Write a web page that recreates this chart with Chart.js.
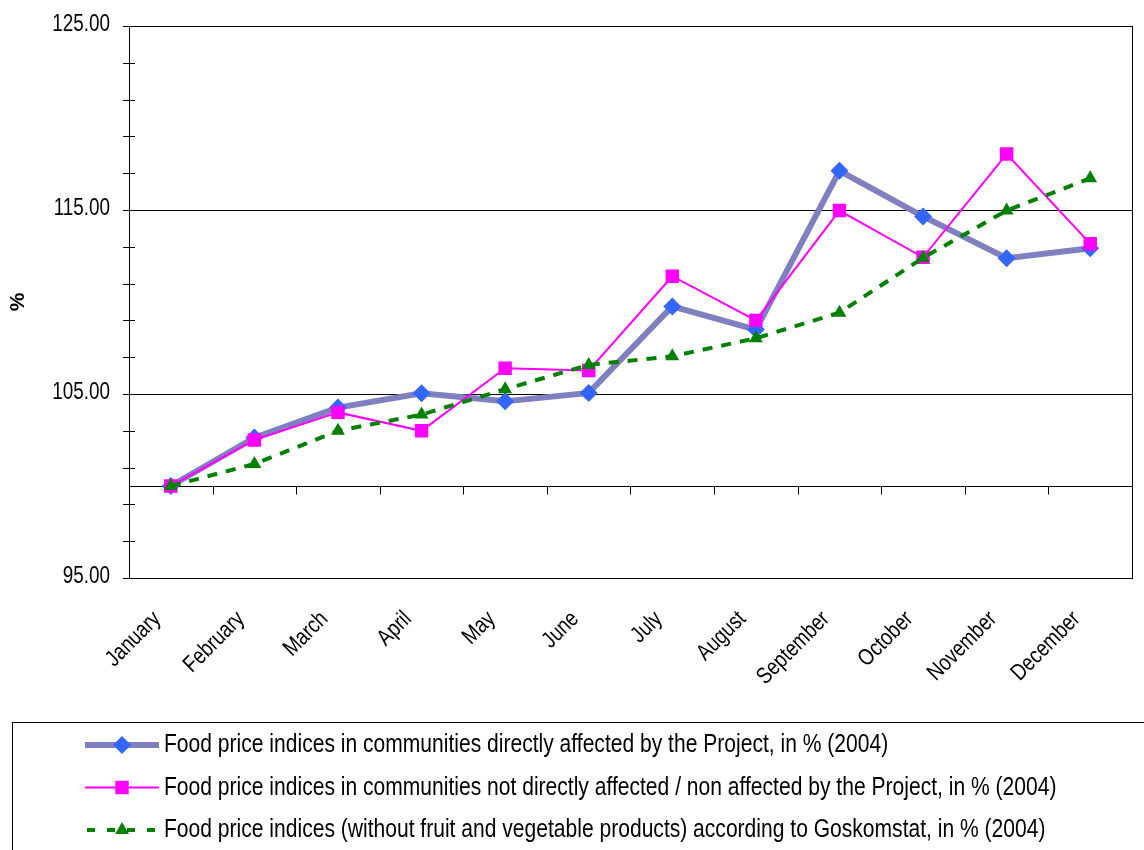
<!DOCTYPE html>
<html>
<head>
<meta charset="utf-8">
<title>Food price indices 2004</title>
<script src="https://cdn.jsdelivr.net/npm/chart.js"></script>
<style>
  body { margin: 0; background: #fff; }
  #wrap { width: 1144px; height: 850px; }
</style>
</head>
<body>
<div id="wrap"><canvas id="priceChart" width="1144" height="850"></canvas></div>
<script>
// months on the category axis
const months = ["January", "February", "March", "April", "May", "June",
  "July", "August", "September", "October", "November", "December"];

// series (%)
const directlyAffected = [100.0, 102.63, 104.26, 105.04, 104.6, 105.06, 109.76, 108.5, 117.13, 114.65, 112.38, 112.92];
const notAffected = [100.0, 102.5, 104.0, 103.0, 106.4, 106.28, 111.4, 109.0, 114.97, 112.43, 118.04, 113.17];
const goskomstat = [100.0, 101.2, 103.0, 103.88, 105.26, 106.58, 107.05, 108.03, 109.42, 112.4, 114.97, 116.72];

// y axis: labelled values, minor step
const yLabels = [95, 105, 115, 125];
const yMin = 95, yMax = 125, yStep = 2;
const crossAt = 100;

const seriesNames = [
  "Food price indices in communities directly affected by the Project, in % (2004)",
  "Food price indices in communities not directly affected / non affected by the Project, in % (2004)",
  "Food price indices (without fruit and vegetable products) according to Goskomstat, in % (2004)"
];

const FONT = "'Liberation Sans', Arial, sans-serif";
const NARROW = 0.82; // Arial -> Arial Narrow width

// draws a marker like the series use
function marker(ctx, style, x, y, r, fill) {
  ctx.save();
  ctx.fillStyle = fill;
  ctx.beginPath();
  if (style === "rectRot") {
    ctx.moveTo(x, y - r); ctx.lineTo(x + r, y); ctx.lineTo(x, y + r); ctx.lineTo(x - r, y);
  } else if (style === "rect") {
    const s = r * Math.SQRT1_2;
    ctx.rect(x - s, y - s, 2 * s, 2 * s);
  } else {
    const w = r * 0.866 * 2;
    ctx.moveTo(x, y - r); ctx.lineTo(x + w / 2, y + r / 2); ctx.lineTo(x - w / 2, y + r / 2);
  }
  ctx.closePath();
  ctx.fill();
  ctx.restore();
}

function narrowText(ctx, txt, x, y, size, align, baseline, angle, squeeze) {
  ctx.save();
  ctx.translate(x, y);
  if (angle) ctx.rotate(angle);
  ctx.scale(squeeze || NARROW, 1);
  ctx.font = size + "px " + FONT;
  ctx.fillStyle = "#000";
  ctx.textAlign = align;
  ctx.textBaseline = baseline;
  ctx.fillText(txt, 0, 0);
  ctx.restore();
}

// plot frame, category axis crossing at 100, tick marks and labels
const frame = {
  id: "frame",
  beforeDatasetsDraw(chart) {
    const { ctx, chartArea: a, scales } = chart;
    ctx.save();
    ctx.strokeStyle = "#000";
    ctx.lineWidth = 1;
    ctx.strokeRect(a.left + 0.5, a.top + 0.5, a.right - a.left, a.bottom - a.top);
    const yc = Math.round(scales.y.getPixelForValue(crossAt)) + 0.5;
    ctx.beginPath();
    ctx.moveTo(a.left, yc); ctx.lineTo(a.right, yc);
    const half = (scales.x.getPixelForValue(1) - scales.x.getPixelForValue(0)) / 2;
    for (let i = 0; i < months.length - 1; i++) {
      const xt = Math.round(scales.x.getPixelForValue(i) + half) + 0.5;
      ctx.moveTo(xt, yc); ctx.lineTo(xt, yc + 8);
    }
    scales.y.ticks.forEach(t => {
      const py = Math.round(scales.y.getPixelForValue(t.value)) + 0.5;
      ctx.moveTo(a.left - 6, py); ctx.lineTo(a.left + 6, py);
    });
    ctx.stroke();
    ctx.restore();

    yLabels.forEach(v => {
      narrowText(ctx, v.toFixed(2), a.left - 19, scales.y.getPixelForValue(v) - 1, 23, "right", "middle", 0);
    });
    months.forEach((m, i) => {
      narrowText(ctx, m, scales.x.getPixelForValue(i) - 9, a.bottom + 42, 23, "right", "alphabetic", -Math.PI / 4);
    });
  }
};

// boxed legend below the chart
const legendBox = {
  id: "legendBox",
  afterDraw(chart) {
    const ctx = chart.ctx;
    ctx.save();
    ctx.strokeStyle = "#000";
    ctx.lineWidth = 1;
    ctx.strokeRect(12.5, 722.5, 1200, 200);
    chart.data.datasets.forEach((ds, i) => {
      const y = 745 + i * 42.5;
      ctx.beginPath();
      ctx.setLineDash(ds.borderDash ? [8, 12] : []);
      ctx.lineDashOffset = ds.borderDash ? -2 : 0;
      ctx.strokeStyle = ds.borderColor;
      ctx.lineWidth = ds.borderWidth;
      ctx.moveTo(85, y);
      ctx.lineTo(159, y);
      ctx.stroke();
      ctx.setLineDash([]);
      marker(ctx, ds.pointStyle, 122, y, ds.pointRadius, ds.pointBackgroundColor);
      narrowText(ctx, ds.label, 164, y, 26, "left", "middle", 0, 0.81);
    });
    ctx.restore();
  }
};

const ctx = document.getElementById("priceChart").getContext("2d");
const chart = new Chart(ctx, {
  type: "line",
  data: {
    labels: months,
    datasets: [
      {
        label: seriesNames[0],
        data: directlyAffected,
        borderColor: "#8080C0",
        borderWidth: 6,
        pointStyle: "rectRot",
        pointRadius: 9,
        pointBackgroundColor: "#3366FF",
        pointBorderColor: "#3366FF",
        pointBorderWidth: 0,
        order: 3
      },
      {
        label: seriesNames[1],
        data: notAffected,
        borderColor: "#FF00FF",
        borderWidth: 2,
        pointStyle: "rect",
        pointRadius: 9.5,
        pointBackgroundColor: "#FF00FF",
        pointBorderColor: "#FF00FF",
        pointBorderWidth: 0,
        order: 2
      },
      {
        label: seriesNames[2],
        data: goskomstat,
        borderColor: "#008000",
        borderWidth: 4,
        borderDash: [10, 9],
        pointStyle: "triangle",
        pointRadius: 8,
        pointBackgroundColor: "#008000",
        pointBorderColor: "#008000",
        pointBorderWidth: 0,
        order: 1
      }
    ]
  },
  options: {
    responsive: false,
    animation: false,
    devicePixelRatio: 1,
    layout: { padding: { left: 6, top: 26, right: 12, bottom: 142 } },
    plugins: {
      legend: { display: false },
      tooltip: { enabled: false }
    },
    scales: {
      x: {
        offset: true,
        grid: { display: false, drawTicks: false },
        border: { display: true, color: "#000", width: 1 },
        ticks: { display: false, autoSkip: false },
        afterFit(scale) { scale.height = 130; }
      },
      y: {
        min: yMin,
        max: yMax,
        border: { display: true, color: "#000", width: 1 },
        grid: {
          color: c => (c.tick && yLabels.includes(c.tick.value) ? "#000" : "rgba(0,0,0,0)"),
          drawTicks: false,
          lineWidth: 1
        },
        ticks: { display: false, stepSize: yStep, autoSkip: false },
        title: {
          display: true,
          text: "%",
          color: "#000",
          font: { family: FONT, size: 21, weight: "bold" },
          padding: { top: 0, bottom: 0 }
        },
        afterFit(scale) { scale.width = 123; }
      }
    }
  },
  plugins: [frame, legendBox]
});
</script>
</body>
</html>
